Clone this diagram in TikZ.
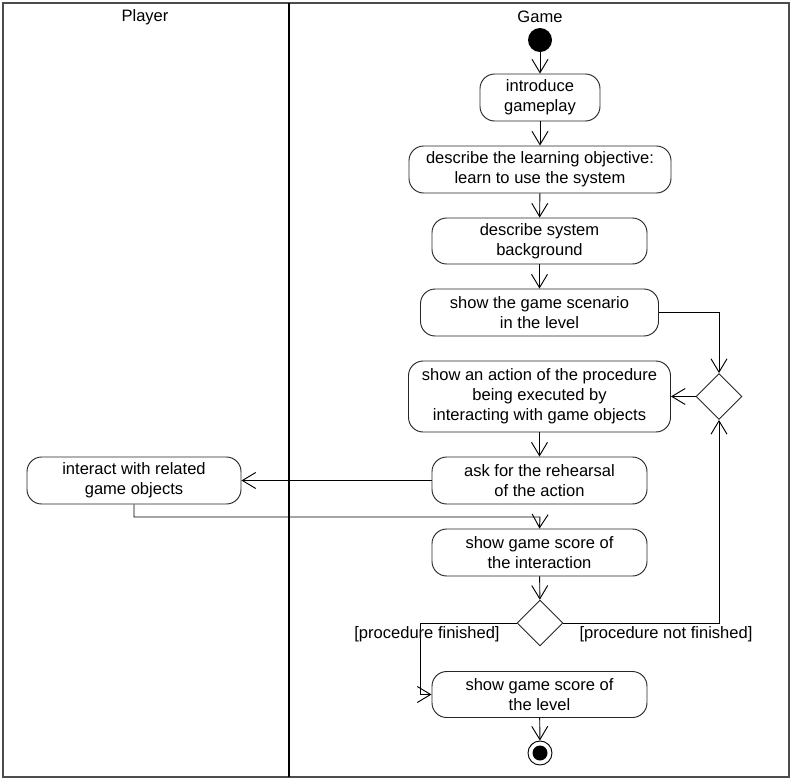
\documentclass[tikz,border=0pt]{standalone}
\usepackage{fontspec}
\setmainfont{Liberation Sans}
\usetikzlibrary{arrows.meta,shapes.geometric}
\begin{document}
\begin{tikzpicture}[x=0.75pt,y=-0.75pt,
  every node/.style={font=\fontsize{12.4}{15}\selectfont},
  act/.style={draw=black!85,line width=0.7pt,rounded corners=11pt,align=center,inner sep=0pt},
  dec/.style={draw=black!85,line width=0.7pt,diamond,aspect=1,inner sep=0pt,minimum width=46*0.75pt,minimum height=46*0.75pt},
  arr/.style={line width=0.7pt,-{Straight Barb[length=10pt,width=12pt]}},
  lane/.style={line width=0.9pt,draw=black!70}]
\useasboundingbox (0,0) rectangle (793,783);
\fill[white] (0,0) rectangle (793,783);
\draw[lane] (3,3) rectangle (789,777);
\draw[line width=1.5pt] (289,3) -- (289,777);
\node (player) at (145,17) {Player};
\node (game) at (540,17) {Game};
\node[circle,fill=black,minimum size=24*0.75pt,inner sep=0pt] (start) at (540,40) {};
\node[act,minimum width=120*0.75pt,minimum height=47*0.75pt] (intro) at (540,97.5) {introduce\\gameplay};
\node[act,minimum width=262*0.75pt,minimum height=47*0.75pt] (learn) at (540,169.5) {describe the learning objective:\\learn to use the system};
\node[act,minimum width=215*0.75pt,minimum height=46*0.75pt] (bg) at (539.5,241) {describe system\\background};
\node[act,minimum width=238*0.75pt,minimum height=47*0.75pt] (scen) at (539.5,312.5) {show the game scenario\\in the level};
\node[act,minimum width=262*0.75pt,minimum height=71*0.75pt] (action) at (539.5,396.5) {show an action of the procedure\\being executed by\\interacting with game objects};
\node[dec] (d1) at (719,396.5) {};
\node[act,minimum width=215*0.75pt,minimum height=47*0.75pt] (ask) at (539.5,480.5) {ask for the rehearsal\\of the action};
\node[act,minimum width=214*0.75pt,minimum height=47*0.75pt] (inter) at (134,480.5) {interact with related\\game objects};
\node[act,minimum width=215*0.75pt,minimum height=47*0.75pt] (scoreI) at (539.5,552.5) {show game score of\\the interaction};
\node[dec] (d2) at (540,623) {};
\node[act,minimum width=215*0.75pt,minimum height=46*0.75pt] (scoreL) at (539.5,694.5) {show game score of\\the level};
\node[circle,draw=black,line width=0.7pt,minimum size=24*0.75pt,inner sep=0pt] (end) at (540,753) {};
\node[circle,fill=black,minimum size=15*0.75pt,inner sep=0pt] (endin) at (540,753) {};
\node (lfin) at (427,634) {[procedure finished]};
\node (lnot) at (666,634) {[procedure not finished]};
\coordinate (c1) at (540,517);
\coordinate (c2) at (420,623);
\draw[arr] (start) -- (intro);
\draw[arr] (intro) -- (learn);
\draw[arr] (learn) -- (bg);
\draw[arr] (bg) -- (scen);
\draw[arr] (scen.east) -| (d1.north);
\draw[arr] (d1.west) -- (action.east);
\draw[arr] (action) -- (ask);
\draw[arr] (ask.west) -- (inter.east);
\draw[arr] (inter.south) |- (c1) -- (scoreI.north);
\draw[arr] (scoreI) -- (d2);
\draw[arr] (d2.east) -| (d1.south);
\draw[arr] (d2.west) -- (c2) |- (scoreL.west);
\draw[arr] (scoreL) -- (end);
\end{tikzpicture}
\end{document}
